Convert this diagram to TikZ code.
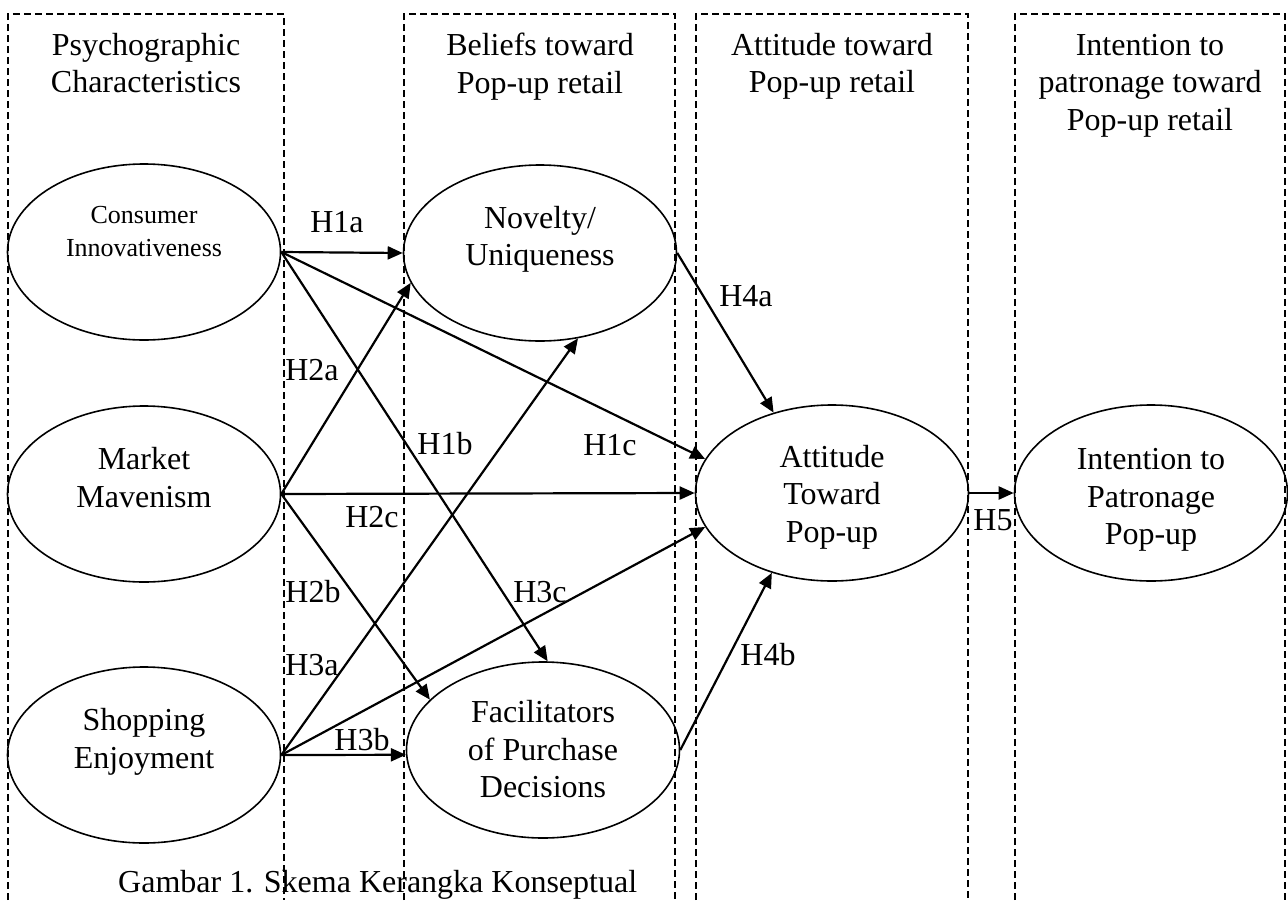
\documentclass[tikz,border=0pt]{standalone}
\usepackage{fontspec}
\setmainfont{Liberation Serif}
\usetikzlibrary{arrows.meta,shapes.geometric}
\begin{document}
\begin{tikzpicture}[x=1pt,y=-1pt,
  ell/.style={draw,ellipse,line width=1.6pt,minimum width=273pt,minimum height=176pt,inner sep=0pt},
  txt/.style={align=center,font=\fontsize{32}{37.5}\selectfont,inner sep=0pt},
  smalltxt/.style={align=center,font=\fontsize{26}{33}\selectfont,inner sep=0pt},
  lab/.style={font=\fontsize{32}{37.5}\selectfont,inner sep=0pt},
  arr/.style={line width=2.2pt,-{Triangle[length=15pt,width=13pt]}},
  col/.style={line width=1.6pt,dash pattern=on 7pt off 4pt}
]
\useasboundingbox (0,0) rectangle (1288,900);
\fill[white] (0,0) rectangle (1288,900);

% column frames (open at the bottom)
\draw[col] (8,900) -- (8,14) -- (284,14) -- (284,900);
\draw[col] (404,900) -- (404,14) -- (675,14) -- (675,900);
\draw[col] (696,900) -- (696,14) -- (968,14) -- (968,900);
\draw[col] (1015,900) -- (1015,14) -- (1285,14) -- (1285,900);

% column headers
\node[txt] (hd1) at (146,63) {Psychographic\\Characteristics};
\node[txt] (hd2) at (540,66.5) {Beliefs toward\\Pop-up retail};
\node[txt] (hd3) at (832,66.5) {Attitude toward\\Pop-up retail};
\node[txt] (hd4) at (1150,85.5) {Intention to\\patronage toward\\Pop-up retail};

% constructs
\node[ell] (ci)  at (144,252) {};
\node[ell] (mm)  at (144,494) {};
\node[ell] (se)  at (144,755) {};
\node[ell] (nov) at (540,253) {};
\node[ell] (fac) at (543,750) {};
\node[ell] (att) at (832,493) {};
\node[ell] (int) at (1151,493) {};

\node[smalltxt] (ci-t)  at (144,232) {Consumer\\Innovativeness};
\node[txt] (mm-t)  at (144,477.5) {Market\\Mavenism};
\node[txt] (se-t)  at (144,742) {Shopping\\Enjoyment};
\node[txt] (nov-t) at (540,239.5) {Novelty/\\Uniqueness};
\node[txt] (fac-t) at (543,749.5) {Facilitators\\of Purchase\\Decisions};
\node[txt] (att-t) at (832,497) {Attitude\\Toward\\Pop-up};
\node[txt] (int-t) at (1151,500) {Intention to\\Patronage\\Pop-up};

% hypotheses
\draw[arr] (ci.east) -- (nov.west);
\draw[arr] (ci.east) -- (fac.87);
\draw[arr] (ci.east) -- (att.165);
\draw[arr] (mm.east) -- (nov.193);
\draw[arr] (mm.east) -- (fac.156);
\draw[arr] (mm.east) -- (att.west);
\draw[arr] (se.east) -- (nov.294);
\draw[arr] (se.east) -- (fac.182);
\draw[arr] (se.east) -- (att.195);
\draw[arr] (nov.east) -- (att.126);
\draw[arr] (fac.east) -- (att.233);
\draw[arr] (att.east) -- (int.west);

% labels
\node[lab] (l1a) at (337,222) {H1a};
\node[lab] (l2a) at (312,370) {H2a};
\node[lab] (l1b) at (445,444) {H1b};
\node[lab] (l1c) at (610,445) {H1c};
\node[lab] (l2c) at (372,517) {H2c};
\node[lab] (l2b) at (313,592) {H2b};
\node[lab] (l3c) at (540,592) {H3c};
\node[lab] (l3a) at (312,665) {H3a};
\node[lab] (l3b) at (362,740) {H3b};
\node[lab] (l4a) at (746,296) {H4a};
\node[lab] (l4b) at (768,655) {H4b};
\node[lab] (l5)  at (993,520) {H5};

% caption
\node[lab,anchor=base west] (cap) at (118,892) {Gambar 1. Skema Kerangka Konseptual};
\end{tikzpicture}
\end{document}
